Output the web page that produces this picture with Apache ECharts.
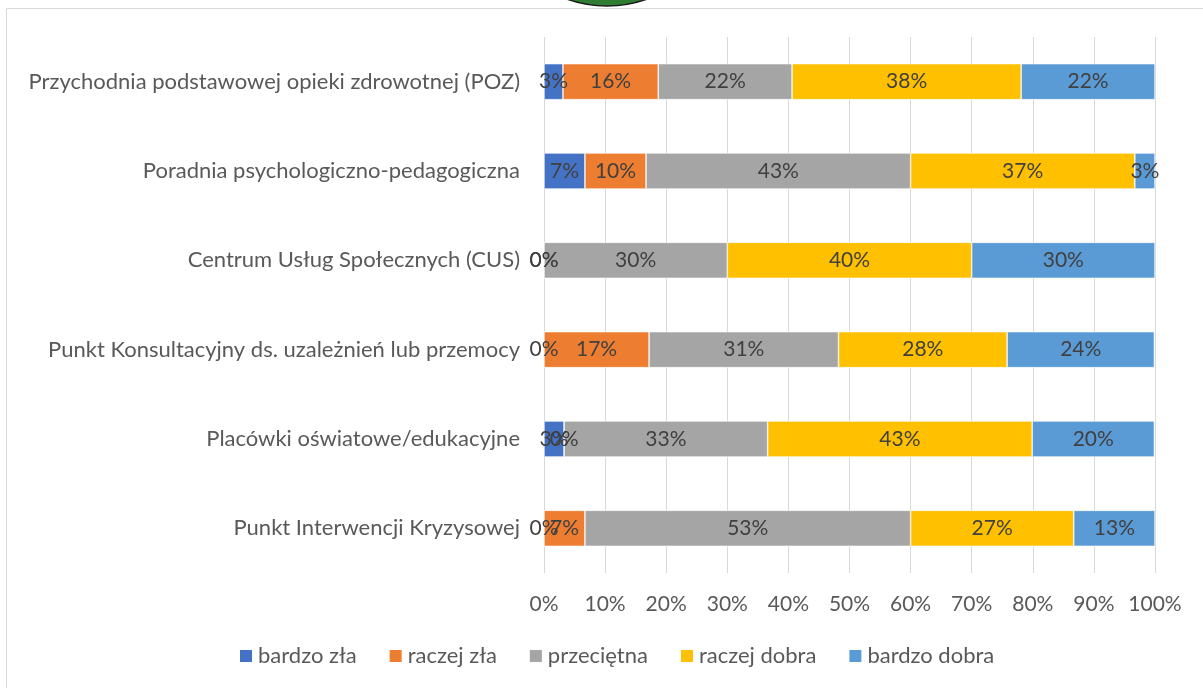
<!DOCTYPE html>
<html>
<head>
  <meta charset="utf-8">
  <title>Ocena placówek</title>
  <script src="https://cdn.jsdelivr.net/npm/echarts@6/dist/echarts.min.js"></script>
  <style>
    html, body { margin: 0; padding: 0; background: #fff; }
    #chart { width: 1203px; height: 688px; }
  </style>
</head>
<body>
  <div id="chart"></div>
  <script>
    // kategorie (od góry)
    var categories = [
      'Przychodnia podstawowej opieki zdrowotnej (POZ)',
      'Poradnia psychologiczno-pedagogiczna',
      'Centrum Usług Społecznych (CUS)',
      'Punkt Konsultacyjny ds. uzależnień lub przemocy',
      'Placówki oświatowe/edukacyjne',
      'Punkt Interwencji Kryzysowej'
    ];
    var seriesNames = ['bardzo zła', 'raczej zła', 'przeciętna', 'raczej dobra', 'bardzo dobra'];
    var bardzoZla = [3.1, 6.7, 0, 0, 3.3, 0];
    var raczejZla = [15.6, 10.0, 0, 17.2, 0, 6.7];
    var przecietna = [21.9, 43.3, 30.0, 31.0, 33.3, 53.3];
    var raczejDobra = [37.5, 36.7, 40.0, 27.6, 43.3, 26.7];
    var bardzoDobra = [21.9, 3.3, 30.0, 24.1, 20.0, 13.3];
    var xTicks = [0, 10, 20, 30, 40, 50, 60, 70, 80, 90, 100];

    var colors = ['#4472C4', '#ED7D31', '#A5A5A5', '#FFC000', '#5B9BD5'];
    var values = [bardzoZla, raczejZla, przecietna, raczejDobra, bardzoDobra];
    var font = 'Lato, "Open Sans", sans-serif';

    var chart = echarts.init(document.getElementById('chart'));

    var series = [];
    for (var i = 0; i < seriesNames.length; i++) {
      series.push({
        name: seriesNames[i],
        type: 'bar',
        stack: 'total',
        barWidth: 36,
        data: values[i],
        itemStyle: { color: colors[i], borderColor: '#fff', borderWidth: 0.6 },
        label: {
          show: true,
          position: 'inside',
          color: '#404040',
          fontSize: 21,
          fontFamily: font,
          formatter: function (p) { return Math.round(p.value) + '%'; }
        }
      });
    }

    var option = {
      animation: false,
      color: colors,
      grid: { left: 544, right: 48, top: 37, bottom: 115 },
      graphic: [
        {
          type: 'rect',
          shape: { x: 6.5, y: 8.5, width: 1220, height: 700 },
          style: { fill: 'none', stroke: '#d9d9d9', lineWidth: 1 },
          z: -1
        },
        {
          type: 'circle',
          shape: { cx: 607, cy: -114, r: 120 },
          style: { fill: '#2E7D32', stroke: '#1b1b1b', lineWidth: 1.5 }
        }
      ],
      legend: {
        data: seriesNames,
        top: 640,
        left: 233,
        itemWidth: 14,
        itemHeight: 14,
        itemGap: 31,
        icon: 'rect',
        textStyle: { color: '#595959', fontSize: 22, fontFamily: font }
      },
      xAxis: {
        type: 'value',
        min: xTicks[0],
        max: xTicks[xTicks.length - 1],
        interval: 10,
        axisLine: { show: false },
        axisTick: { show: false },
        splitLine: { lineStyle: { color: '#d9d9d9', width: 1 } },
        axisLabel: {
          margin: 21,
          color: '#595959',
          fontSize: 21,
          fontFamily: font,
          formatter: '{value}%'
        }
      },
      yAxis: {
        type: 'category',
        inverse: true,
        data: categories,
        axisLine: { show: false },
        axisTick: { show: false },
        axisLabel: {
          margin: 24,
          color: '#595959',
          fontSize: 22,
          fontFamily: font
        }
      },
      series: series
    };

    chart.setOption(option);
  </script>
</body>
</html>
